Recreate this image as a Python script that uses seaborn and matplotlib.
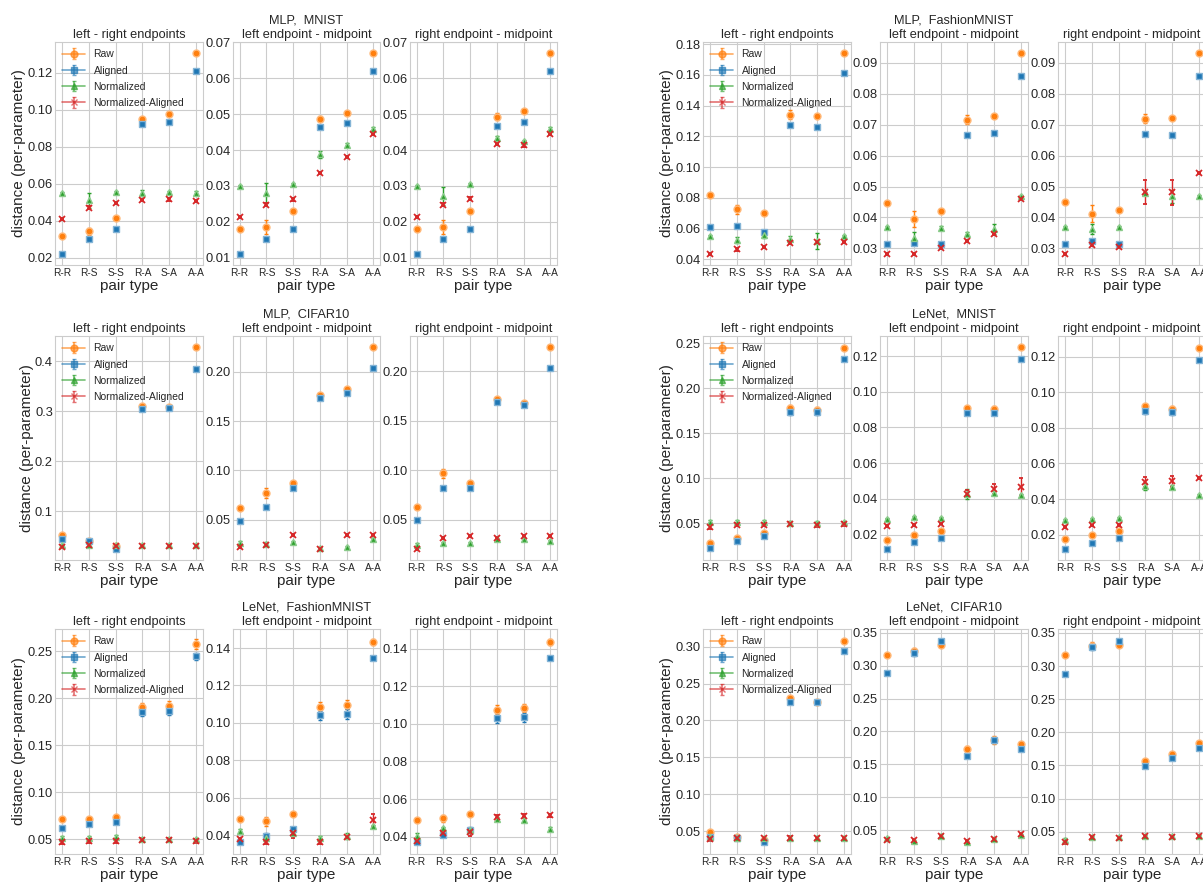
import numpy as np
import matplotlib
matplotlib.use('Agg')
import matplotlib.pyplot as plt
import seaborn as sns

pair_types = ['R-R', 'R-S', 'S-S', 'R-A', 'S-A', 'A-A']
series_names = ['Raw', 'Aligned', 'Normalized', 'Normalized-Aligned']
panel_titles = ['left - right endpoints', 'left endpoint - midpoint', 'right endpoint - midpoint']
group_titles = ['MLP,  MNIST', 'MLP,  FashionMNIST', 'MLP,  CIFAR10',
                'LeNet,  MNIST', 'LeNet,  FashionMNIST', 'LeNet,  CIFAR10']

# rows: Raw, Aligned, Normalized, Normalized-Aligned
# ── MLP, MNIST ──
mlp_mnist_lr = [[0.0320, 0.0343, 0.0415, 0.0950, 0.0975, 0.1305],
                [0.0220, 0.0300, 0.0355, 0.0920, 0.0935, 0.1210],
                [0.0550, 0.0510, 0.0555, 0.0550, 0.0555, 0.0550],
                [0.0410, 0.0470, 0.0495, 0.0510, 0.0515, 0.0505]]
mlp_mnist_lr_err = [[0.0005, 0.0020, 0.0005, 0.0010, 0.0005, 0.0005],
                    [0.0004, 0.0005, 0.0005, 0.0008, 0.0006, 0.0005],
                    [0.0005, 0.0040, 0.0008, 0.0015, 0.0008, 0.0008],
                    [0.0005, 0.0008, 0.0006, 0.0006, 0.0006, 0.0005]]
mlp_mnist_lm = [[0.0180, 0.0185, 0.0230, 0.0487, 0.0502, 0.0670],
                [0.0110, 0.0152, 0.0180, 0.0465, 0.0475, 0.0620],
                [0.0300, 0.0280, 0.0305, 0.0388, 0.0415, 0.0460],
                [0.0213, 0.0248, 0.0263, 0.0335, 0.0380, 0.0445]]
mlp_mnist_lm_err = [[0.0003, 0.0020, 0.0003, 0.0007, 0.0003, 0.0003],
                    [0.0002, 0.0003, 0.0003, 0.0004, 0.0003, 0.0003],
                    [0.0003, 0.0027, 0.0003, 0.0010, 0.0004, 0.0004],
                    [0.0003, 0.0004, 0.0004, 0.0003, 0.0003, 0.0003]]
mlp_mnist_rm = [[0.0180, 0.0185, 0.0230, 0.0493, 0.0510, 0.0670],
                [0.0110, 0.0153, 0.0180, 0.0467, 0.0478, 0.0620],
                [0.0300, 0.0272, 0.0305, 0.0433, 0.0424, 0.0460],
                [0.0213, 0.0248, 0.0264, 0.0418, 0.0413, 0.0445]]
mlp_mnist_rm_err = [[0.0003, 0.0020, 0.0003, 0.0010, 0.0003, 0.0003],
                    [0.0002, 0.0003, 0.0003, 0.0004, 0.0003, 0.0003],
                    [0.0003, 0.0025, 0.0003, 0.0006, 0.0004, 0.0004],
                    [0.0003, 0.0004, 0.0004, 0.0003, 0.0003, 0.0003]]

# ── MLP, FashionMNIST ──
mlp_fmnist_lr = [[0.0820, 0.0725, 0.0700, 0.1340, 0.1330, 0.1740],
                 [0.0610, 0.0615, 0.0580, 0.1275, 0.1260, 0.1615],
                 [0.0550, 0.0525, 0.0555, 0.0535, 0.0520, 0.0550],
                 [0.0435, 0.0465, 0.0480, 0.0505, 0.0510, 0.0510]]
mlp_fmnist_lr_err = [[0.0008, 0.0030, 0.0008, 0.0030, 0.0010, 0.0008],
                     [0.0008, 0.0010, 0.0008, 0.0008, 0.0008, 0.0008],
                     [0.0010, 0.0020, 0.0015, 0.0015, 0.0050, 0.0008],
                     [0.0006, 0.0008, 0.0006, 0.0008, 0.0010, 0.0006]]
mlp_fmnist_lm = [[0.0448, 0.0395, 0.0421, 0.0716, 0.0728, 0.0932],
                 [0.0313, 0.0319, 0.0314, 0.0666, 0.0672, 0.0858],
                 [0.0370, 0.0335, 0.0367, 0.0348, 0.0362, 0.0470],
                 [0.0283, 0.0282, 0.0302, 0.0323, 0.0345, 0.0460]]
mlp_fmnist_lm_err = [[0.0003, 0.0027, 0.0003, 0.0015, 0.0004, 0.0003],
                     [0.0003, 0.0005, 0.0004, 0.0003, 0.0003, 0.0003],
                     [0.0003, 0.0017, 0.0004, 0.0004, 0.0017, 0.0004],
                     [0.0003, 0.0003, 0.0003, 0.0003, 0.0003, 0.0003]]
mlp_fmnist_rm = [[0.0450, 0.0412, 0.0423, 0.0720, 0.0722, 0.0932],
                 [0.0313, 0.0325, 0.0314, 0.0671, 0.0667, 0.0858],
                 [0.0369, 0.0363, 0.0368, 0.0478, 0.0468, 0.0470],
                 [0.0282, 0.0312, 0.0303, 0.0482, 0.0481, 0.0543]]
mlp_fmnist_rm_err = [[0.0003, 0.0028, 0.0003, 0.0015, 0.0004, 0.0003],
                     [0.0003, 0.0004, 0.0003, 0.0003, 0.0003, 0.0003],
                     [0.0003, 0.0015, 0.0003, 0.0004, 0.0020, 0.0003],
                     [0.0003, 0.0004, 0.0003, 0.0040, 0.0040, 0.0003]]

# ── MLP, CIFAR10 ──
mlp_cifar_lr = [[0.052, 0.041, 0.031, 0.310, 0.309, 0.428],
                [0.044, 0.040, 0.025, 0.304, 0.307, 0.384],
                [0.033, 0.033, 0.033, 0.032, 0.032, 0.032],
                [0.029, 0.032, 0.030, 0.031, 0.031, 0.031]]
mlp_cifar_lr_err = [[0.003, 0.002, 0.001, 0.003, 0.002, 0.002],
                    [0.003, 0.002, 0.002, 0.003, 0.002, 0.002],
                    [0.002, 0.002, 0.002, 0.002, 0.002, 0.002],
                    [0.002, 0.002, 0.002, 0.002, 0.002, 0.002]]
mlp_cifar_lm = [[0.0620, 0.0770, 0.0870, 0.1770, 0.1830, 0.2250],
                [0.0490, 0.0630, 0.0820, 0.1730, 0.1790, 0.2040],
                [0.0265, 0.0258, 0.0279, 0.0215, 0.0225, 0.0300],
                [0.0221, 0.0242, 0.0346, 0.0205, 0.0350, 0.0346]]
mlp_cifar_lm_err = [[0.0010, 0.0050, 0.0010, 0.0020, 0.0020, 0.0010],
                    [0.0010, 0.0010, 0.0020, 0.0020, 0.0020, 0.0010],
                    [0.0015, 0.0015, 0.0010, 0.0010, 0.0010, 0.0010],
                    [0.0010, 0.0010, 0.0010, 0.0010, 0.0010, 0.0010]]
mlp_cifar_rm = [[0.0633, 0.0968, 0.0872, 0.1724, 0.1674, 0.2242],
                [0.0497, 0.0822, 0.0822, 0.1691, 0.1658, 0.2030],
                [0.0251, 0.0264, 0.0264, 0.0308, 0.0308, 0.0290],
                [0.0208, 0.0314, 0.0334, 0.0314, 0.0334, 0.0334]]
mlp_cifar_rm_err = [[0.0010, 0.0050, 0.0010, 0.0020, 0.0010, 0.0010],
                    [0.0010, 0.0010, 0.0020, 0.0020, 0.0020, 0.0010],
                    [0.0015, 0.0010, 0.0010, 0.0010, 0.0010, 0.0010],
                    [0.0010, 0.0010, 0.0010, 0.0010, 0.0010, 0.0010]]

# ── LeNet, MNIST ──
lenet_mnist_lr = [[0.0279, 0.0334, 0.0390, 0.1780, 0.1760, 0.2450],
                  [0.0224, 0.0300, 0.0353, 0.1738, 0.1738, 0.2323],
                  [0.0518, 0.0518, 0.0518, 0.0500, 0.0500, 0.0510],
                  [0.0456, 0.0485, 0.0485, 0.0493, 0.0482, 0.0493]]
lenet_mnist_lr_err = [[0.002, 0.002, 0.002, 0.003, 0.003, 0.002],
                      [0.002, 0.002, 0.002, 0.003, 0.003, 0.002],
                      [0.002, 0.002, 0.002, 0.002, 0.003, 0.002],
                      [0.002, 0.002, 0.002, 0.002, 0.002, 0.002]]
lenet_mnist_lm = [[0.0172, 0.0200, 0.0221, 0.0907, 0.0901, 0.1250],
                  [0.0120, 0.0157, 0.0183, 0.0882, 0.0882, 0.1181],
                  [0.0290, 0.0297, 0.0293, 0.0428, 0.0434, 0.0424],
                  [0.0247, 0.0256, 0.0262, 0.0428, 0.0456, 0.0465]]
lenet_mnist_lm_err = [[0.0005, 0.0005, 0.0005, 0.0015, 0.0020, 0.0005],
                      [0.0005, 0.0005, 0.0005, 0.0015, 0.0015, 0.0010],
                      [0.0005, 0.0005, 0.0005, 0.0030, 0.0010, 0.0005],
                      [0.0005, 0.0005, 0.0005, 0.0020, 0.0030, 0.0050]]
lenet_mnist_rm = [[0.0176, 0.0200, 0.0222, 0.0920, 0.0905, 0.1250],
                  [0.0120, 0.0153, 0.0181, 0.0892, 0.0888, 0.1181],
                  [0.0284, 0.0288, 0.0293, 0.0471, 0.0469, 0.0422],
                  [0.0243, 0.0252, 0.0256, 0.0495, 0.0499, 0.0518]]
lenet_mnist_rm_err = [[0.0005, 0.0005, 0.0005, 0.0015, 0.0020, 0.0008],
                      [0.0005, 0.0005, 0.0005, 0.0015, 0.0015, 0.0010],
                      [0.0005, 0.0005, 0.0005, 0.0020, 0.0010, 0.0005],
                      [0.0005, 0.0005, 0.0005, 0.0030, 0.0030, 0.0005]]

# ── LeNet, FashionMNIST ──
lenet_fmnist_lr = [[0.0711, 0.0718, 0.0736, 0.1906, 0.1924, 0.2580],
                   [0.0623, 0.0658, 0.0683, 0.1860, 0.1870, 0.2447],
                   [0.0514, 0.0514, 0.0525, 0.0500, 0.0500, 0.0507],
                   [0.0472, 0.0482, 0.0482, 0.0489, 0.0489, 0.0482]]
lenet_fmnist_lr_err = [[0.002, 0.002, 0.002, 0.005, 0.005, 0.005],
                       [0.002, 0.002, 0.002, 0.005, 0.005, 0.004],
                       [0.002, 0.002, 0.002, 0.001, 0.001, 0.001],
                       [0.002, 0.002, 0.002, 0.002, 0.002, 0.002]]
lenet_fmnist_lm = [[0.0485, 0.0475, 0.0515, 0.1085, 0.1097, 0.1432],
                   [0.0367, 0.0397, 0.0432, 0.1040, 0.1047, 0.1349],
                   [0.0425, 0.0385, 0.0415, 0.0388, 0.0395, 0.0448],
                   [0.0378, 0.0363, 0.0413, 0.0363, 0.0390, 0.0480]]
lenet_fmnist_lm_err = [[0.0008, 0.0025, 0.0008, 0.0025, 0.0025, 0.0015],
                       [0.0008, 0.0015, 0.0010, 0.0025, 0.0025, 0.0010],
                       [0.0008, 0.0008, 0.0008, 0.0008, 0.0015, 0.0008],
                       [0.0008, 0.0008, 0.0025, 0.0008, 0.0008, 0.0035]]
lenet_fmnist_rm = [[0.0490, 0.0497, 0.0520, 0.1075, 0.1085, 0.1435],
                   [0.0370, 0.0407, 0.0435, 0.1032, 0.1035, 0.1350],
                   [0.0405, 0.0445, 0.0435, 0.0495, 0.0490, 0.0443],
                   [0.0378, 0.0418, 0.0425, 0.0507, 0.0510, 0.0515]]
lenet_fmnist_rm_err = [[0.0008, 0.0020, 0.0008, 0.0025, 0.0020, 0.0015],
                       [0.0008, 0.0008, 0.0015, 0.0025, 0.0025, 0.0010],
                       [0.0015, 0.0008, 0.0008, 0.0008, 0.0008, 0.0008],
                       [0.0008, 0.0008, 0.0020, 0.0008, 0.0008, 0.0008]]

# ── LeNet, CIFAR10 ──
lenet_cifar_lr = [[0.0491, 0.0424, 0.0379, 0.2297, 0.2247, 0.3080],
                  [0.0424, 0.0401, 0.0348, 0.2252, 0.2247, 0.2942],
                  [0.0424, 0.0410, 0.0400, 0.0410, 0.0410, 0.0410],
                  [0.0392, 0.0400, 0.0400, 0.0410, 0.0400, 0.0400]]
lenet_cifar_lr_err = [[0.002, 0.002, 0.002, 0.002, 0.002, 0.002],
                      [0.002, 0.002, 0.002, 0.002, 0.002, 0.002],
                      [0.002, 0.002, 0.002, 0.002, 0.002, 0.002],
                      [0.002, 0.002, 0.002, 0.002, 0.002, 0.002]]
lenet_cifar_lm = [[0.316, 0.322, 0.332, 0.173, 0.187, 0.181],
                  [0.289, 0.3195, 0.3383, 0.163, 0.1863, 0.1736],
                  [0.0373, 0.0332, 0.0414, 0.0312, 0.0363, 0.0424],
                  [0.0347, 0.0347, 0.0405, 0.0332, 0.0360, 0.0434]]
lenet_cifar_lm_err = [[0.002, 0.005, 0.002, 0.005, 0.006, 0.002],
                      [0.002, 0.005, 0.002, 0.002, 0.004, 0.002],
                      [0.002, 0.002, 0.002, 0.002, 0.002, 0.002],
                      [0.002, 0.002, 0.002, 0.002, 0.002, 0.002]]
lenet_cifar_rm = [[0.317, 0.331, 0.332, 0.1568, 0.1669, 0.184],
                  [0.2883, 0.3288, 0.3385, 0.1492, 0.1618, 0.176],
                  [0.0379, 0.0414, 0.0414, 0.0429, 0.0429, 0.0429],
                  [0.0338, 0.0414, 0.0405, 0.0429, 0.0420, 0.0429]]
lenet_cifar_rm_err = [[0.002, 0.005, 0.002, 0.003, 0.003, 0.002],
                      [0.002, 0.005, 0.002, 0.002, 0.003, 0.002],
                      [0.002, 0.002, 0.002, 0.002, 0.002, 0.002],
                      [0.002, 0.002, 0.002, 0.002, 0.002, 0.002]]

groups = [
    [(mlp_mnist_lr, mlp_mnist_lr_err), (mlp_mnist_lm, mlp_mnist_lm_err), (mlp_mnist_rm, mlp_mnist_rm_err)],
    [(mlp_fmnist_lr, mlp_fmnist_lr_err), (mlp_fmnist_lm, mlp_fmnist_lm_err), (mlp_fmnist_rm, mlp_fmnist_rm_err)],
    [(mlp_cifar_lr, mlp_cifar_lr_err), (mlp_cifar_lm, mlp_cifar_lm_err), (mlp_cifar_rm, mlp_cifar_rm_err)],
    [(lenet_mnist_lr, lenet_mnist_lr_err), (lenet_mnist_lm, lenet_mnist_lm_err), (lenet_mnist_rm, lenet_mnist_rm_err)],
    [(lenet_fmnist_lr, lenet_fmnist_lr_err), (lenet_fmnist_lm, lenet_fmnist_lm_err), (lenet_fmnist_rm, lenet_fmnist_rm_err)],
    [(lenet_cifar_lr, lenet_cifar_lr_err), (lenet_cifar_lm, lenet_cifar_lm_err), (lenet_cifar_rm, lenet_cifar_rm_err)],
]

sns.set_style('whitegrid')
plt.rcParams['font.family'] = ['Liberation Sans', 'DejaVu Sans']
pal = sns.color_palette('tab10')
colors = [pal[1], pal[0], pal[2], pal[3]]
markers = ['o', 's', '^', 'x']
msizes = [5, 5, 5, 4.5]


def halo(c):
    return tuple(0.55 * np.array(c) + 0.45)


W, H = 1203, 883
fig = plt.figure(figsize=(W / 100, H / 100), dpi=100)

row_px = [(42, 265), (336, 560), (629, 854)]
col_px = [[(55, 203), (233, 380), (410, 557)],
          [(703, 851), (880, 1028), (1058, 1206)]]

# proxy handles for legend (line + marker + errorbar)
dummy = fig.add_axes([0, 0, 0.01, 0.01])
proxies = []
for c, m, ms in zip(colors, markers, msizes):
    h = dummy.errorbar([0, 1], [0, 0], yerr=[1, 1], fmt='-', marker=m, ms=ms, color=c,
                       capsize=1.5, lw=1.2, alpha=0.65)
    proxies.append(h)
dummy.set_visible(False)

x = np.arange(len(pair_types))
for g, panels in enumerate(groups):
    top, bot = row_px[g // 2]
    for p, (vals, errs) in enumerate(panels):
        x0, x1 = col_px[g % 2][p]
        ax = fig.add_axes([x0 / W, 1 - bot / H, (x1 - x0) / W, (bot - top) / H])
        for s in range(4):
            ax.errorbar(x, vals[s], yerr=errs[s], ls='none', marker=markers[s], ms=msizes[s],
                        color=colors[s], mec=halo(colors[s]) if s < 3 else colors[s],
                        mew=1.0 if s < 3 else 1.3, capsize=1.5, elinewidth=1.0, capthick=1.0)
        ax.set_xticks(x)
        ax.set_xticklabels(pair_types)
        ax.tick_params(length=0)
        ax.tick_params(axis='x', labelsize=7.3, pad=2.5)
        ax.tick_params(axis='y', labelsize=9.3, pad=1.5)
        ax.set_xlabel('pair type', fontsize=11, labelpad=0.5)
        if p == 1:
            ax.set_title(group_titles[g] + '\n' + panel_titles[p], fontsize=9.2, pad=3, linespacing=1.25)
        else:
            ax.set_title(panel_titles[p], fontsize=9.2, pad=3)
        if p == 0:
            ax.set_ylabel('distance (per-parameter)', fontsize=11, labelpad=1)
            ax.legend(proxies, series_names, loc='upper left', fontsize=7.5, frameon=False,
                      handlelength=2.2, borderaxespad=0.3, labelspacing=0.6)

fig.savefig('out.png', dpi=100)
